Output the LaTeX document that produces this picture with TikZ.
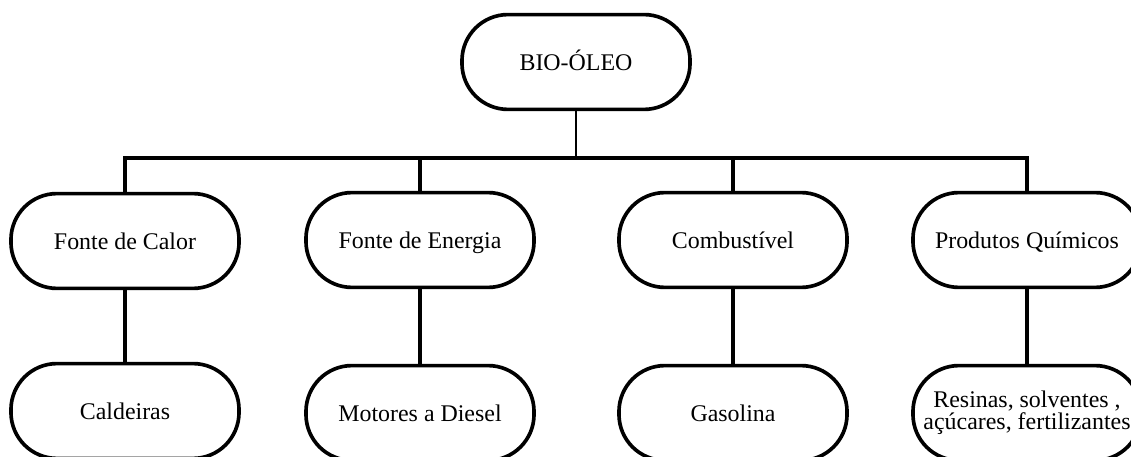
\documentclass[tikz,border=0pt]{standalone}
\usepackage{fontspec}
\setmainfont{Liberation Serif}
\usetikzlibrary{positioning}

\begin{document}
\begin{tikzpicture}[
  x=0.025cm, y=-0.025cm,
  every node/.style={font=\fontsize{17}{19}\selectfont},
  pill/.style={draw, line width=2.6pt, rounded corners=1.15cm,
    minimum width=5.7cm, minimum height=2.37cm, inner sep=0pt, align=center,
    text height=14pt, text depth=2pt},
  link/.style={line width=2.6pt}
]
\useasboundingbox (0,0) rectangle (1131,457);

% raiz
\node[pill] (oleo) at (576,62) {BIO-ÓLEO};

% aplicacoes
\node[pill] (calor)   at (125,241) {Fonte de Calor};
\node[pill] (energia) at (420,240) {Fonte de Energia};
\node[pill] (comb)    at (733,240) {Combustível};
\node[pill] (quim)    at (1027,240) {Produtos Químicos};

% exemplos
\node[pill] (cald)   at (125,411) {Caldeiras};
\node[pill] (diesel) at (420,413) {Motores a Diesel};
\node[pill] (gas)    at (733,413) {Gasolina};
\node[pill, text height={}, text depth={}] (resina) at (1027,413)
  {Resinas, solventes ,\\[-3pt]açúcares, fertilizantes};

\coordinate (bus) at (576,158);
\draw[line width=1.5pt] (oleo) -- (bus);
\draw[link] (calor.north) |- (bus) -| (quim.north);
\draw[link] (energia.north) -- (energia.north |- bus);
\draw[link] (comb.north) -- (comb.north |- bus);

\draw[link] (calor) -- (cald);
\draw[link] (energia) -- (diesel);
\draw[link] (comb) -- (gas);
\draw[link] (quim) -- (resina);
\end{tikzpicture}
\end{document}
